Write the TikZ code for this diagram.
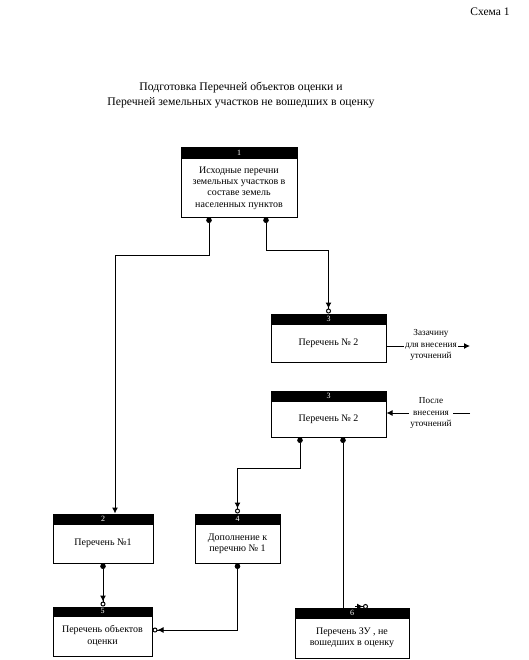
\documentclass[tikz,border=0pt]{standalone}
\usepackage{fontspec}
\setmainfont{Liberation Serif}
\usetikzlibrary{arrows.meta}
\begin{document}
\begin{tikzpicture}[x=1pt,y=-1pt,
  body/.style={draw,line width=1pt,inner sep=0pt,align=center,font=\fontsize{10}{11.4}\selectfont},
  head/.style={draw,fill=black,text=white,line width=1pt,inner sep=0pt,anchor=south,minimum height=9pt,font=\fontsize{8}{8}\selectfont},
  side/.style={fill=white,inner sep=1pt,align=center,font=\fontsize{9.2}{11.5}\selectfont},
  link/.style={line width=1pt,{Circle[length=5.5pt]}-{Latex[length=6pt,width=6pt]Circle[fill=white,length=5pt]}},
  dotarrow/.style={line width=1pt,{Circle[length=5.5pt]}-{Latex[length=6pt,width=6pt]}},
  dotline/.style={line width=1pt,{Circle[length=5.5pt]}-}]
\useasboundingbox (0,0) rectangle (529,660);
% titles
\node[font=\fontsize{11.5}{12}\selectfont] (schema) at (490,12) {Схема 1};
\node[font=\fontsize{11.7}{15}\selectfont,align=center] (title) at (241,95) {Подготовка Перечней объектов оценки и\\Перечней земельных участков не вошедших в оценку};
% boxes
\node[body,minimum width=116pt,minimum height=58pt] (b1) at (239,188) {Исходные перечни\\земельных участков в\\составе земель\\населенных пунктов};
\node[head,minimum width=116pt,minimum height=10pt] (h1) at (b1.north) {1};
\node[body,minimum width=115pt,minimum height=38pt] (b3a) at (328.5,343) {Перечень № 2};
\node[head,minimum width=115pt] (h3a) at (b3a.north) {3};
\node[body,minimum width=115pt,minimum height=36pt] (b3b) at (328.5,419) {Перечень № 2};
\node[head,minimum width=115pt] (h3b) at (b3b.north) {3};
\node[body,minimum width=100pt,minimum height=39pt] (b2) at (103,543.5) {Перечень №1};
\node[head,minimum width=100pt] (h2) at (b2.north) {2};
\node[body,minimum width=85pt,minimum height=39pt] (b4) at (237.5,543.5) {Дополнение к\\перечню № 1};
\node[head,minimum width=85pt] (h4) at (b4.north) {4};
\node[body,minimum width=99pt,minimum height=40pt] (b5) at (102.5,636) {Перечень объектов\\оценки};
\node[head,minimum width=99pt,minimum height=8pt] (h5) at (b5.north) {5};
\node[body,minimum width=114pt,minimum height=40pt] (b6) at (352,638) {Перечень ЗУ , не\\вошедших в оценку};
\node[head,minimum width=114pt] (h6) at (b6.north) {6};
% side notes
\coordinate (out3) at (470,346);
\coordinate (in3) at (470,413);
\draw[line width=1pt,-{Latex[length=6pt,width=6pt]}] ([yshift=-3pt]b3a.east) -- (out3);
\node[side] (t3a) at (431,345) {Зазачину\\для внесения\\уточнений};
\draw[line width=1pt,-{Latex[length=6pt,width=6pt]}] (in3) -- ([yshift=6pt]b3b.east);
\node[side] (t3b) at (431,413) {После\\внесения\\уточнений};
% connectors
\draw[dotarrow] ([xshift=-30pt]b1.south) -- ++(0,38) -| ([xshift=12pt]h2.north);
\draw[link] ([xshift=27pt]b1.south) -- ++(0,33) -| (h3a.north);
\draw[link] ([xshift=-28.5pt]b3b.south) -- ++(0,31) -| (h4.north);
\draw[dotline] ([xshift=14.5pt]b3b.south) -- ([xshift=-9pt]h6.north);
\draw[link] (b2.south) -- (b2.south |- h5.north);
\draw[link] (b4.south) |- ([yshift=6pt]b5.east);
\draw[line width=1pt,-{Latex[length=6pt,width=6pt]Circle[fill=white,length=5pt]}] ([xshift=3pt,yshift=1pt]h6.north) -- ([xshift=16pt,yshift=1pt]h6.north);
\end{tikzpicture}
\end{document}
